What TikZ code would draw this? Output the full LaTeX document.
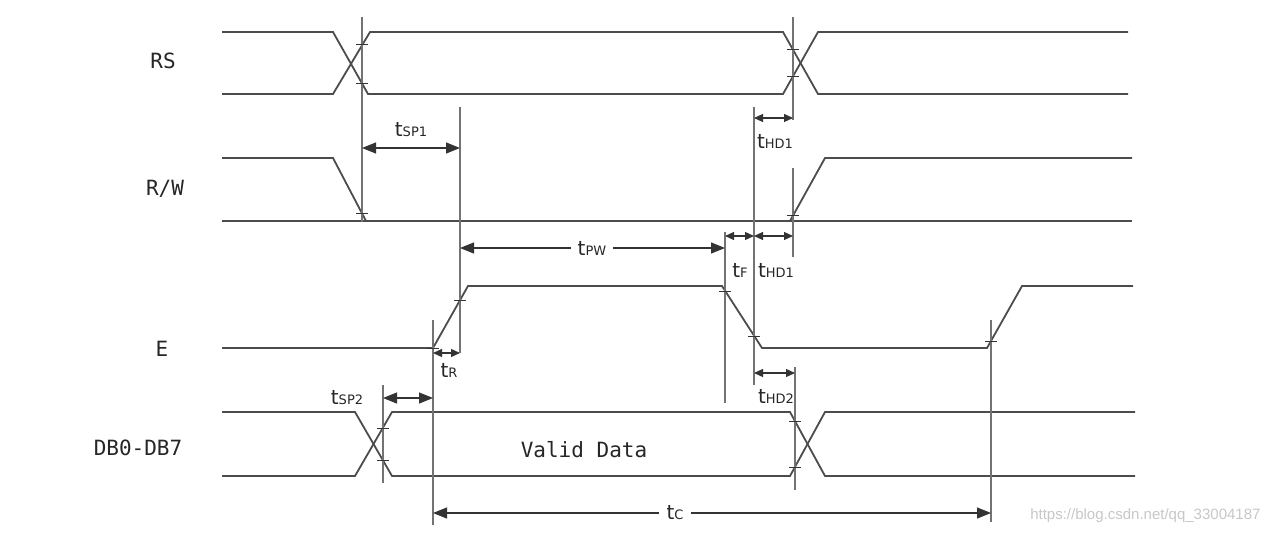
\documentclass[tikz,border=0pt]{standalone}
\usepackage{fontspec}
\setmonofont{DejaVu Sans Mono}
\setsansfont{DejaVu Sans}
\newfontfamily\markfont{Liberation Sans}
\usetikzlibrary{arrows.meta}

\begin{document}
\begin{tikzpicture}[x=1pt,y=-1pt,>={Triangle[length=14pt,width=11pt]}]
 \tikzstyle{wave} = [line width=1.8pt,black!70]
 \tikzstyle{guide} = [line width=1.3pt,black!55]
 \tikzstyle{dim} = [line width=1.2pt,black!80,<->]
 \tikzstyle{smalldim} = [dim,>={Triangle[length=9pt,width=8pt]}]
 \tikzstyle{siglabel} = [font=\fontsize{21}{21}\selectfont\ttfamily,text=black!85]
 \tikzstyle{tlabel} = [inner sep=1pt,text=black!85]
 \newcommand{\tlab}[1]{{\fontsize{20}{20}\selectfont\sffamily t}{\fontsize{13}{13}\selectfont\sffamily #1}}
 \useasboundingbox (0,0) rectangle (1273,535);

 % signal names
 \node[siglabel] (rs) at (163,61) {RS};
 \node[siglabel] (rw) at (165,189) {R/W};
 \node[siglabel] (e) at (162,349) {E};
 \node[siglabel] (db) at (138,448) {DB0-DB7};
 \node[siglabel] (valid) at (584,450) {Valid Data};

 % waveforms
 \draw[wave] (222,32) -- (333,32) -- (368,94) -- (783,94) -- (818,32) -- (1128,32);
 \draw[wave] (222,94) -- (333,94) -- (370,32) -- (783,32) -- (818,94) -- (1128,94);
 \draw[wave] (222,158) -- (333,158) -- (366,221);
 \draw[wave] (222,221) -- (1132,221);
 \draw[wave] (790,221) -- (825,158) -- (1132,158);
 \draw[wave] (222,348) -- (433,348) -- (468,286) -- (722,286) -- (762,348) -- (987,348) -- (1022,286) -- (1133,286);
 \draw[wave] (222,412) -- (355,412) -- (392,476) -- (790,476) -- (825,412) -- (1135,412);
 \draw[wave] (222,476) -- (355,476) -- (392,412) -- (790,412) -- (825,476) -- (1135,476);

 % timing guides
 \draw[guide] (362,17) -- (362,222);
 \draw[guide] (460,107) -- (460,353);
 \draw[guide] (793,17) -- (793,120);
 \draw[guide] (754,107) -- (754,385);
 \draw[guide] (793,168) -- (793,257);
 \draw[guide] (725,232) -- (725,403);
 \draw[guide] (433,320) -- (433,525);
 \draw[guide] (383,385) -- (383,483);
 \draw[guide] (795,367) -- (795,490);
 \draw[guide] (991,320) -- (991,522);
 \foreach \p in {(362,45),(362,83),(362,213),(793,50),(793,76),(793,215),(433,348),(460,300),
   (725,291),(754,336),(991,341),(383,428),(383,460),(795,421),(795,467)}
   {\draw[line width=1pt,black!80] \p +(-6,0) -- +(6,0);}

 % timing parameters
 \draw[dim] (362,148) -- (460,148);
 \node[tlabel] (tsp1) at (411,130) {\tlab{SP1}};
 \draw[smalldim] (754,118) -- (793,118);
 \node[tlabel] (thd1) at (775,141) {\tlab{HD1}};
 \draw[dim] (460,248) -- (725,248);
 \node[tlabel,fill=white,inner xsep=7pt] (tpw) at (592,248) {\tlab{PW}};
 \draw[smalldim] (725,236) -- (754,236);
 \node[tlabel] (tf) at (740,270) {\tlab{F}};
 \draw[smalldim] (754,236) -- (793,236);
 \node[tlabel] (thd1b) at (776,270) {\tlab{HD1}};
 \draw[smalldim] (433,353) -- (460,353);
 \node[tlabel] (tr) at (449,370) {\tlab{R}};
 \draw[dim] (383,398) -- (433,398);
 \node[tlabel] (tsp2) at (347,398) {\tlab{SP2}};
 \draw[smalldim] (754,373) -- (795,373);
 \node[tlabel] (thd2) at (776,396) {\tlab{HD2}};
 \draw[dim] (433,513) -- (991,513);
 \node[tlabel,fill=white,inner xsep=8pt] (tc) at (675,513) {\tlab{C}};

 \node[font=\markfont\fontsize{15}{15}\selectfont,text=black!22,anchor=east] (mark) at (1264,516) {https://blog.csdn.net/qq\_33004187};
\end{tikzpicture}
\end{document}
